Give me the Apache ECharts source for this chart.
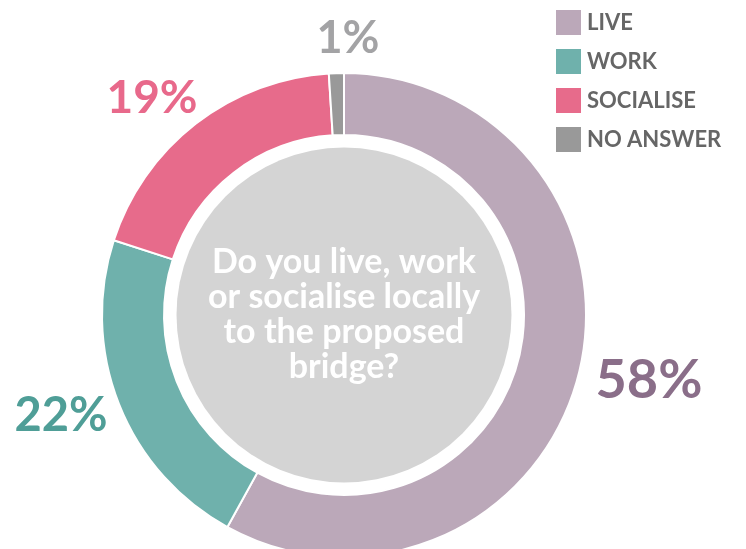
<!DOCTYPE html>
<html>
<head>
<meta charset="utf-8">
<style>
  html, body { margin: 0; padding: 0; background: #ffffff; }
  #chart { width: 746px; height: 549px; }
</style>
<script src="https://cdn.jsdelivr.net/npm/echarts@6/dist/echarts.min.js"></script>
</head>
<body>
<div id="chart"></div>
<script>
// Survey answers: share of respondents (%)
var categories = ['LIVE', 'WORK', 'SOCIALISE', 'NO ANSWER'];
var shares = [58, 22, 19, 1];
var question = 'Do you live, work\nor socialise locally\nto the proposed\nbridge?';

// Colours for each answer: slice fill and percentage label
var sliceColors = ['#BBA8B9', '#6FB1AC', '#E76B8B', '#999999'];
var labelColors = ['#8A6E89', '#4F9E97', '#E8698B', '#A3A3A5'];
// Where each percentage label sits, and how big it is drawn
var labelSpots = [[649, 381], [61, 416], [152, 98], [348, 38]];
var labelSizes = [54, 47, 46, 45];

var FONT = 'Lato, "Open Sans", sans-serif';

var chart = echarts.init(document.getElementById('chart'), null, { renderer: 'canvas' });

var sliceData = categories.map(function (name, i) {
  return {
    name: name,
    value: shares[i],
    itemStyle: { color: sliceColors[i] },
    label: { color: labelColors[i], fontSize: labelSizes[i] }
  };
});

chart.setOption({
  animation: false,
  backgroundColor: '#ffffff',
  legend: {
    orient: 'vertical',
    left: 554,
    top: 8,
    padding: 0,
    itemWidth: 27,
    itemHeight: 27,
    itemGap: 10,
    icon: 'rect',
    selectedMode: false,
    data: categories,
    textStyle: {
      fontFamily: FONT,
      fontSize: 22,
      fontWeight: 'bold',
      color: '#666666',
      padding: [0, 0, 0, 0]
    }
  },
  series: [
    {
      // grey disc with the survey question
      type: 'pie',
      silent: true,
      center: [344, 315],
      radius: [0, 167.5],
      data: [{ value: 1, name: 'question', itemStyle: { color: '#D4D4D4' } }],
      label: {
        show: true,
        position: 'center',
        formatter: question,
        color: '#ffffff',
        fontFamily: FONT,
        fontSize: 34,
        fontWeight: 'bold',
        lineHeight: 35,
        align: 'center',
        padding: [16, 0, 0, 0]
      },
      labelLine: { show: false }
    },
    {
      type: 'pie',
      silent: true,
      center: [344, 315],
      radius: [180, 242],
      startAngle: 90,
      clockwise: true,
      data: sliceData,
      itemStyle: { borderColor: '#ffffff', borderWidth: 2 },
      label: {
        show: true,
        position: 'outside',
        formatter: '{c}%',
        fontFamily: FONT,
        fontWeight: 'bold',
        overflow: 'none',
        width: 200
      },
      labelLine: { show: false },
      labelLayout: function (params) {
        var p = labelSpots[params.dataIndex];
        return { x: p[0], y: p[1], align: 'center', verticalAlign: 'middle' };
      }
    }
  ]
});
</script>
</body>
</html>
